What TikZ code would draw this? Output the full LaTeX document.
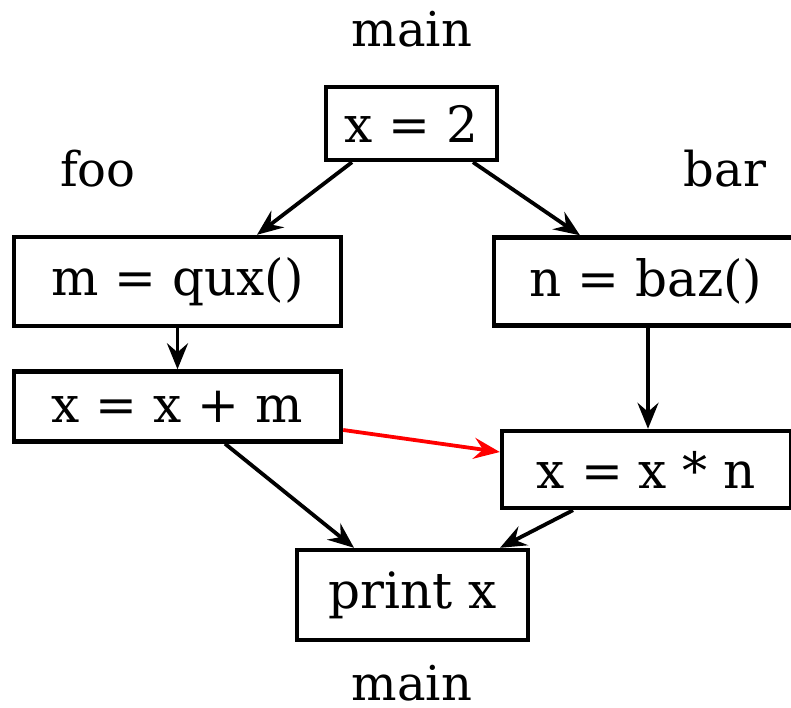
\documentclass[tikz,border=0pt]{standalone}
\usepackage{fontspec}
\setmainfont{DejaVu Serif}
\usetikzlibrary{arrows.meta}
\begin{document}
\begin{tikzpicture}[x=1pt,y=-1pt,
  blk/.style={draw=black,line width=4.4pt,fill=white,inner sep=0pt,font=\fontsize{50}{52}\selectfont},
  lbl/.style={inner sep=0pt,anchor=base,text depth=0pt,font=\fontsize{48}{50}\selectfont},
  arr/.style={line width=3.8pt,-{Stealth[length=26pt,width=21pt,inset=9pt]}}]
\useasboundingbox (0,0) rectangle (791,708);
\node[lbl] (mtop) at (412,47) {main};
\node[lbl] (foo) at (98,187) {foo};
\node[lbl] (bar) at (725,187) {bar};
\node[lbl] (mbot) at (412,700) {main};
\node[blk,minimum width=171pt,minimum height=73pt] (n1) at (411.5,123.5) {x = 2};
\node[blk,minimum width=327pt,minimum height=89pt] (n2) at (177.5,281.5) {m = qux()};
\node[blk,minimum width=304pt,minimum height=88pt] (n3) at (646,281.5) {n = baz()};
\node[blk,minimum width=327pt,minimum height=70pt] (n4) at (177.5,406.5) {x = x + m};
\node[blk,minimum width=289pt,minimum height=77pt] (n5) at (646.5,469.5) {x = x * n};
\node[blk,minimum width=231pt,minimum height=90pt] (n6) at (412.5,595) {print x};
\draw[arr] ([xshift=-59.5pt]n1.south) -- ([xshift=79.5pt]n2.north);
\draw[arr] ([xshift=61.5pt]n1.south) -- ([xshift=-66pt]n3.north);
\draw[arr] (n2.south) -- (n4.north);
\draw[arr] ([xshift=2pt]n3.south) -- ([xshift=1.5pt]n5.north);
\draw[arr,red] ([yshift=-23.5pt]n4.east) -- ([yshift=17.5pt]n5.west);
\draw[arr] ([xshift=47.5pt]n4.south) -- ([xshift=-58.5pt]n6.north);
\draw[arr] ([xshift=-73.5pt]n5.south) -- ([xshift=87.5pt]n6.north);
\end{tikzpicture}
\end{document}
